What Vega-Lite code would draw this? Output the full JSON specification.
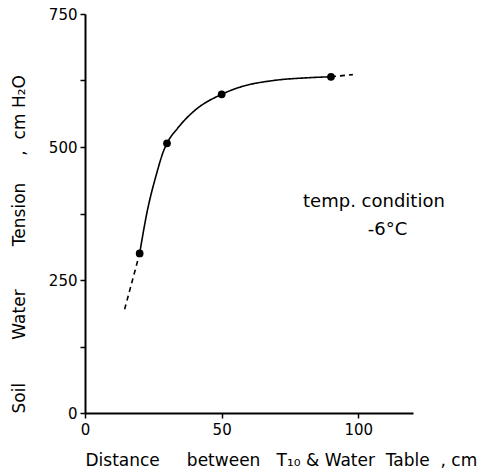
{
  "$schema": "https://vega.github.io/schema/vega-lite/v6.json",
  "width": 328,
  "height": 399,
  "autosize": "none",
  "padding": {"left": 85, "top": 14, "right": 78, "bottom": 60},
  "background": "white",
  "config": {
    "view": {"stroke": null},
    "font": "DejaVu Sans",
    "axis": {"grid": false, "domainColor": "black", "tickColor": "black", "labelColor": "black", "titleColor": "black", "labelFont": "DejaVu Sans", "titleFont": "DejaVu Sans", "labelFontSize": 15, "titleFontSize": 17, "titleFontWeight": "normal", "domainWidth": 2, "tickWidth": 1.5}
  },
  "layer": [
    {
      "data": {"values": [
        {"d": 14.5, "t": 195, "seg": "low", "style": "dashed"},
        {"d": 20, "t": 300, "seg": "low", "style": "dashed"},
        {"d": 20, "t": 300, "seg": "main", "style": "solid"},
        {"d": 22.6, "t": 375, "seg": "main", "style": "solid"},
        {"d": 26.2, "t": 450, "seg": "main", "style": "solid"},
        {"d": 28.7, "t": 492, "seg": "main", "style": "solid"},
        {"d": 30, "t": 507, "seg": "main", "style": "solid"},
        {"d": 34, "t": 536, "seg": "main", "style": "solid"},
        {"d": 40, "t": 568, "seg": "main", "style": "solid"},
        {"d": 50, "t": 599, "seg": "main", "style": "solid"},
        {"d": 57, "t": 613, "seg": "main", "style": "solid"},
        {"d": 69, "t": 625, "seg": "main", "style": "solid"},
        {"d": 81, "t": 630, "seg": "main", "style": "solid"},
        {"d": 90, "t": 632, "seg": "main", "style": "solid"},
        {"d": 90, "t": 632, "seg": "high", "style": "dashed"},
        {"d": 98, "t": 636, "seg": "high", "style": "dashed"}
      ]},
      "mark": {"type": "line", "interpolate": "monotone", "color": "black", "strokeWidth": 1.6},
      "encoding": {
        "x": {"field": "d", "type": "quantitative", "scale": {"domain": [0, 120], "nice": false},
          "axis": {"values": [0, 50, 100], "labelPadding": 4, "tickSize": 5, "labelFlush": false, "title": "Distance\u00a0\u00a0\u00a0\u00a0\u00a0between\u00a0\u00a0\u00a0T\u2081\u2080 & Water\u00a0 Table\u00a0 , cm", "titleAlign": "left", "titleAnchor": "start", "titleX": 0, "titlePadding": 15}},
        "y": {"field": "t", "type": "quantitative", "scale": {"domain": [0, 750], "nice": false},
          "axis": {"values": [0, 125, 250, 375, 500, 625, 750], "labelExpr": "datum.value % 250 == 0 ? datum.label : ''", "tickSize": 5, "labelPadding": 3, "title": "Soil\u00a0\u00a0\u00a0\u00a0\u00a0\u00a0\u00a0\u00a0Water\u00a0\u00a0\u00a0\u00a0\u00a0\u00a0\u00a0\u00a0Tension\u00a0\u00a0\u00a0\u00a0\u00a0,\u00a0\u00a0cm H\u2082O", "titleAnchor": "start", "titlePadding": 20}},
        "detail": {"field": "seg"},
        "strokeDash": {"field": "style", "type": "nominal", "scale": {"domain": ["solid", "dashed"], "range": [[1, 0], [5, 4]]}, "legend": null}
      }
    },
    {
      "data": {"values": [
        {"d": 20, "t": 300},
        {"d": 30, "t": 507},
        {"d": 50, "t": 599},
        {"d": 90, "t": 632}
      ]},
      "mark": {"type": "point", "filled": true, "color": "black", "opacity": 1, "size": 60},
      "encoding": {
        "x": {"field": "d", "type": "quantitative"},
        "y": {"field": "t", "type": "quantitative"}
      }
    },
    {
      "data": {"values": [
        {"d": 105.7, "t": 396, "label": "temp. condition"},
        {"d": 110.7, "t": 344, "label": "-6°C"}
      ]},
      "mark": {"type": "text", "fontSize": 18, "color": "black", "font": "DejaVu Sans"},
      "encoding": {
        "x": {"field": "d", "type": "quantitative"},
        "y": {"field": "t", "type": "quantitative"},
        "text": {"field": "label"}
      }
    }
  ]
}
